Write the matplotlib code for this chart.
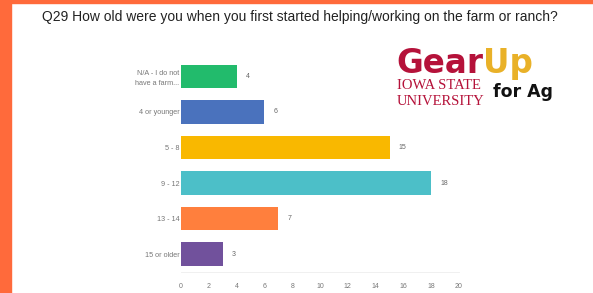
import matplotlib
matplotlib.use("Agg")
import matplotlib.pyplot as plt
from matplotlib.patches import Rectangle

categories = ["N/A - I do not\nhave a farm...", "4 or younger", "5 - 8", "9 - 12", "13 - 14", "15 or older"]
counts = [4, 6, 15, 18, 7, 3]
colors = ["#22bb6c", "#4a72bd", "#f9b800", "#4cbfc8", "#ff7f3d", "#71519c"]
xticks = [0, 2, 4, 6, 8, 10, 12, 14, 16, 18, 20]
title = "Q29 How old were you when you first started helping/working on the farm or ranch?"

plt.rcParams["font.family"] = ["Liberation Sans", "DejaVu Sans"]

fig = plt.figure(figsize=(5.93, 2.93), dpi=100)
fig.patch.set_facecolor("white")

# orange frame (left strip and top strip)
fig.patches.append(Rectangle((0, 0), 11 / 593, 1, transform=fig.transFigure,
                             color="#ff6a3b", zorder=0))
fig.patches.append(Rectangle((0, 1 - 3 / 293), 1, 3 / 293, transform=fig.transFigure,
                             color="#ff6a3b", zorder=0))

ax = fig.add_axes([181 / 593, 0.0725, 278 / 593, 0.727])
y = list(range(len(categories)))
ax.barh(y, counts, height=0.66, color=colors)
for yi, v in zip(y, counts):
    ax.text(v + 0.65, yi, str(v), va="center", ha="left", fontsize=5, color="#666666")

ax.set_xlim(0, 20)
ax.set_ylim(5.5, -0.5)
ax.set_yticks(y)
ax.set_yticklabels(categories, fontsize=5.2, color="#777777", linespacing=1.5)
ax.set_xticks(xticks)
ax.set_xticklabels([str(t) for t in xticks], fontsize=5, color="#777777")
ax.tick_params(axis="both", length=0)
ax.tick_params(axis="x", pad=8)
ax.tick_params(axis="y", pad=1)
for s in ["top", "right", "left"]:
    ax.spines[s].set_visible(False)
ax.spines["bottom"].set_color("#eeeeee")
ax.spines["bottom"].set_linewidth(0.6)

fig.text(300 / 593, 1 - 17 / 293, title, ha="center", va="center", fontsize=10, color="#222222")

# logo
fig.text(396 / 593, 1 - 73 / 293, "Gear", fontsize=23.5, fontweight="bold", family="DejaVu Sans",
         color="#b5123a", ha="left", va="baseline")
fig.text(483 / 593, 1 - 73 / 293, "Up", fontsize=23.5, fontweight="bold", family="DejaVu Sans",
         color="#e9b128", ha="left", va="baseline")
fig.text(397 / 593, 1 - 89 / 293, "IOWA STATE", fontsize=10.5, family="Liberation Serif",
         color="#b5123a", ha="left", va="baseline")
fig.text(397 / 593, 1 - 105 / 293, "UNIVERSITY", fontsize=10.5, family="Liberation Serif",
         color="#b5123a", ha="left", va="baseline")
fig.text(493 / 593, 1 - 97 / 293, "for Ag", fontsize=12.5, fontweight="bold", family="DejaVu Sans",
         color="#111111", ha="left", va="baseline")

fig.savefig("out.png", dpi=100)
